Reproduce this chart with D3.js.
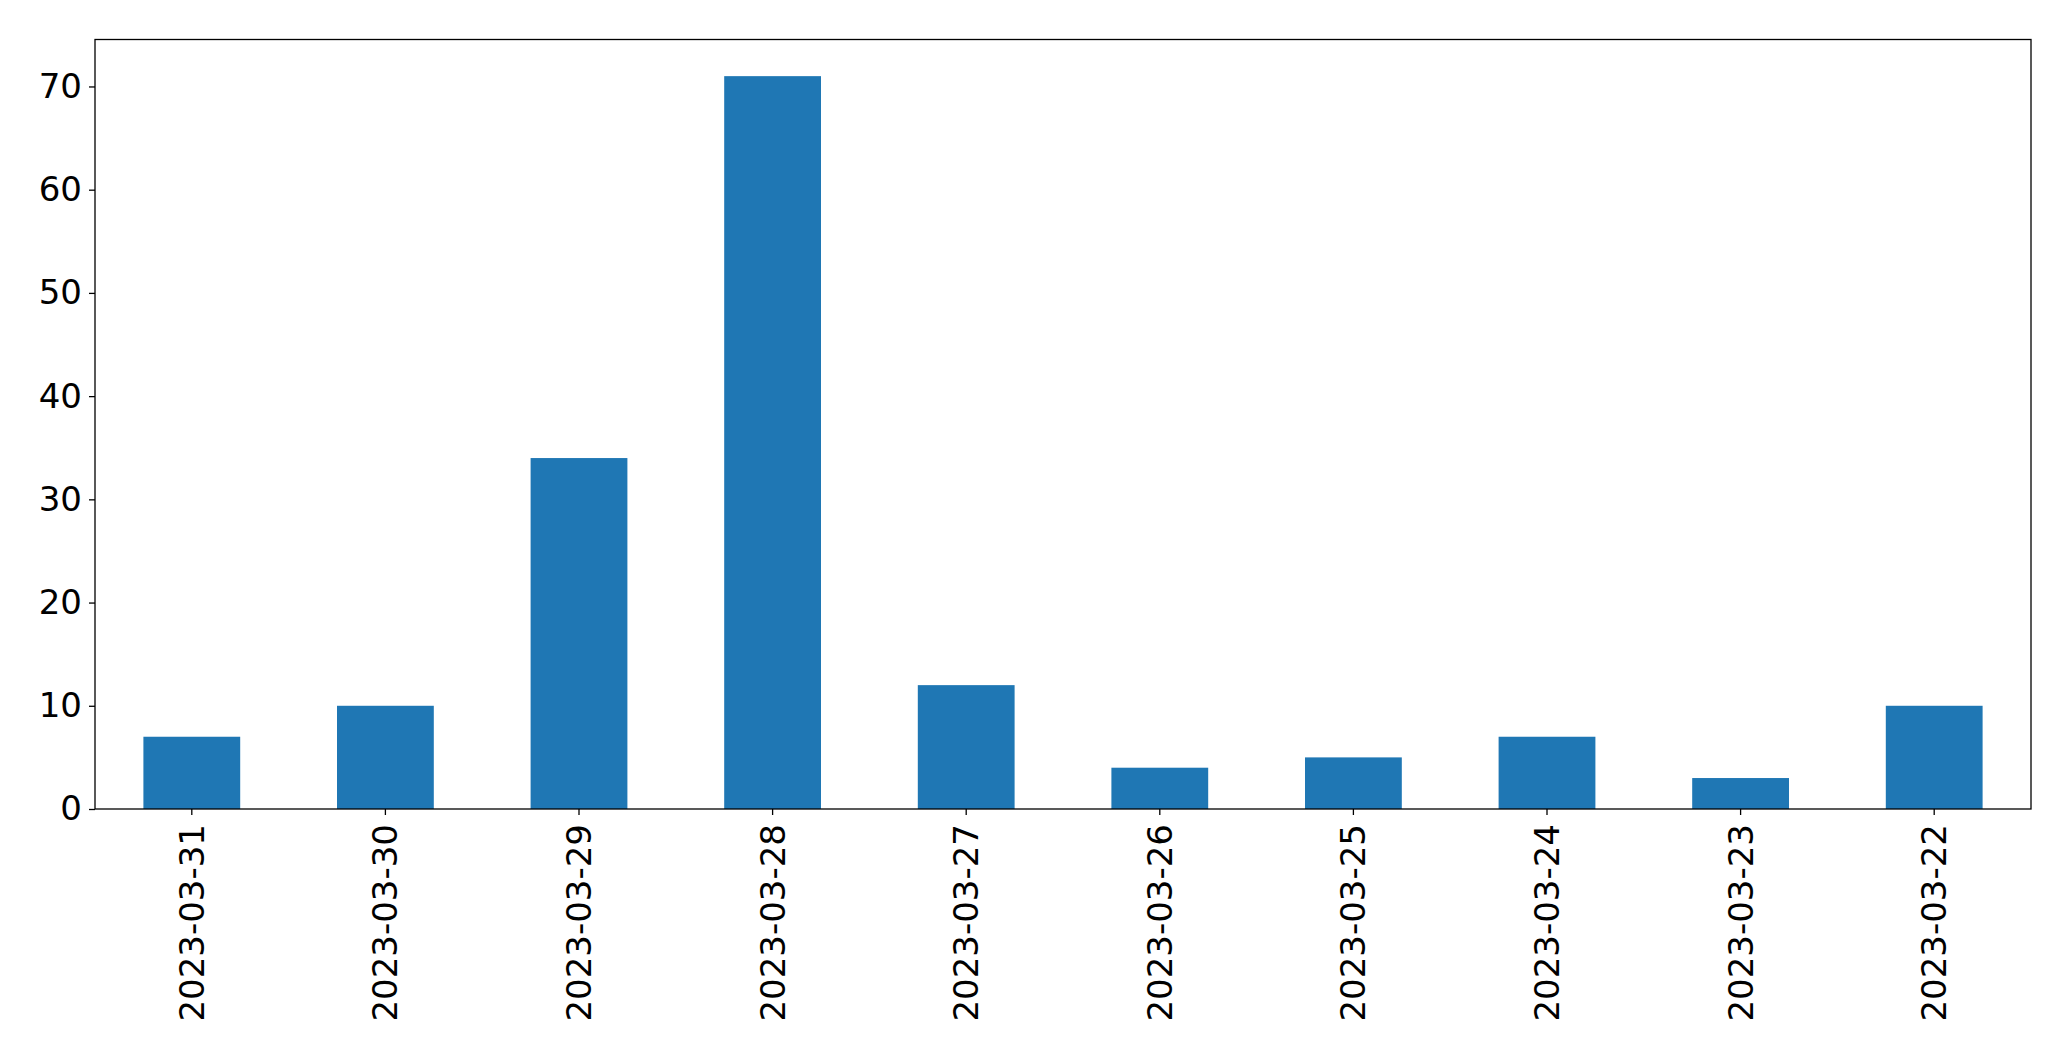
<!DOCTYPE html>
<html>
<head>
<meta charset="utf-8">
<script src="https://cdn.jsdelivr.net/npm/d3@7"></script>
<style>
  html, body { margin: 0; padding: 0; background: #fff; }
  svg { display: block; }
  text { font-family: "DejaVu Sans", sans-serif; }
</style>
</head>
<body>
<script>
const categories = ["2023-03-31","2023-03-30","2023-03-29","2023-03-28","2023-03-27","2023-03-26","2023-03-25","2023-03-24","2023-03-23","2023-03-22"];
const values = [7, 10, 34, 71, 12, 4, 5, 7, 3, 10];
const yTicks = [0, 10, 20, 30, 40, 50, 60, 70];

const W = 2071, H = 1061;
const margin = {left: 95, right: 40, top: 39.5, bottom: 252};
const fontSize = 34;

const svg = d3.select("body").append("svg").attr("width", W).attr("height", H);

const x = d3.scaleBand().domain(categories)
  .range([margin.left, W - margin.right])
  .paddingInner(0.5).paddingOuter(0.25);
const y = d3.scaleLinear().domain([0, 74.55]).range([H - margin.bottom, margin.top]);

svg.append("g").selectAll("rect").data(values).join("rect")
  .attr("x", (d, i) => x(categories[i]))
  .attr("y", d => y(d))
  .attr("width", x.bandwidth())
  .attr("height", d => y(0) - y(d))
  .attr("fill", "#1f77b4");

const yAxis = svg.append("g").attr("transform", `translate(${margin.left},0)`)
  .call(d3.axisLeft(y).tickValues(yTicks).tickFormat(d3.format("d")).tickSize(6).tickPadding(7));
const xAxis = svg.append("g").attr("transform", `translate(0,${H - margin.bottom})`)
  .call(d3.axisBottom(x).tickSize(6).tickPadding(6));

[yAxis, xAxis].forEach(g => {
  g.select(".domain").remove();
  g.selectAll(".tick line").attr("stroke", "#000").attr("stroke-width", 1.3);
  g.selectAll(".tick text").attr("font-size", fontSize).attr("fill", "#000")
    .attr("font-family", "DejaVu Sans, sans-serif");
});

xAxis.selectAll(".tick text")
  .attr("transform", "rotate(-90)")
  .attr("text-anchor", "end")
  .attr("x", -15)
  .attr("y", 0)
  .attr("dy", "0.35em");

svg.append("rect")
  .attr("x", margin.left).attr("y", margin.top)
  .attr("width", W - margin.right - margin.left)
  .attr("height", H - margin.bottom - margin.top)
  .attr("fill", "none").attr("stroke", "#000").attr("stroke-width", 1.3);
</script>
</body>
</html>
